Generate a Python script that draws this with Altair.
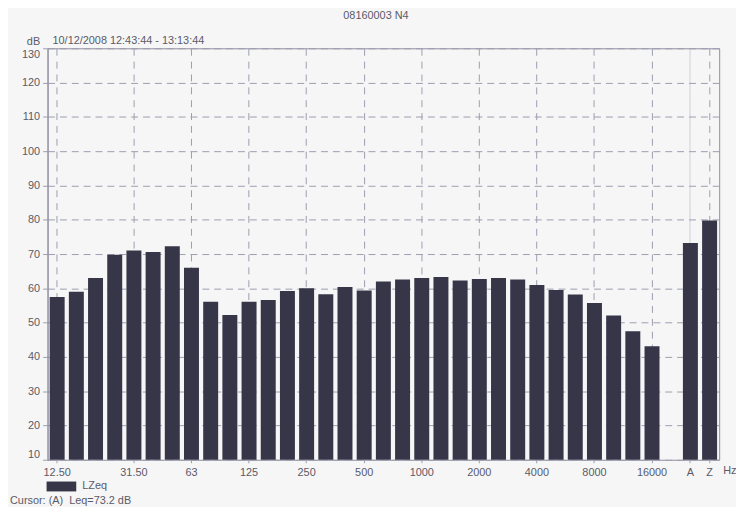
import altair as alt
import pandas as pd

bands = ["12.50", "16", "20", "25", "31.50", "40", "50", "63", "80", "100",
         "125", "160", "200", "250", "315", "400", "500", "630", "800", "1000",
         "1250", "1600", "2000", "2500", "3150", "4000", "5000", "6300", "8000",
         "10000", "12500", "16000", "20000", "A", "Z"]
levels = [57.5, 59.0, 63.0, 69.8, 71.0, 70.6, 72.3, 66.0, 56.1, 52.2,
          56.1, 56.6, 59.2, 60.0, 58.3, 60.4, 59.4, 62.0, 62.6, 63.0,
          63.3, 62.3, 62.7, 63.0, 62.6, 61.0, 59.5, 58.2, 55.7, 52.1,
          47.5, 43.1, None, 73.2, 79.8]
shown_labels = ["12.50", "31.50", "63", "125", "250", "500", "1000", "2000",
                "4000", "8000", "16000", "A", "Z"]
y_ticks = [10, 20, 30, 40, 50, 60, 70, 80, 90, 100, 110, 120, 130]
y_floor = 10

title_text = "08160003 N4"
period_text = "10/12/2008 12:43:44 - 13:13:44"
cursor_text = "Cursor: (A)\u00a0\u00a0Leq=73.2 dB"
series_name = "LZeq"

rows = [{"band": b, "level": v, "series": series_name}
        for b, v in zip(bands, levels) if v is not None]
df = pd.DataFrame(rows)

W, H = 679, 416
FONT = "Liberation Sans"
FS = 11
TXT = "#5a5a68"
GRID = "#9d9db0"
BAR = "#373648"

bars = alt.Chart(df).mark_bar(color=BAR).encode(
    x=alt.X("band:N", sort=bands,
            scale=alt.Scale(domain=bands, paddingInner=0.22, paddingOuter=0.11),
            axis=alt.Axis(
                title=None, values=shown_labels, labelAngle=0,
                labelFont=FONT, labelFontSize=FS, labelColor=TXT,
                labelPadding=4, tickSize=3, tickColor=GRID, domain=False,
                grid=True,
                gridColor={"condition": {"test": "datum.value === 'A'", "value": "#cdcdd8"}, "value": GRID},
                gridDash={"condition": {"test": "datum.value === 'A'", "value": [1, 0]}, "value": [7, 6]},
                gridWidth=1)),
    y=alt.Y("level:Q",
            scale=alt.Scale(domain=[10, 130], nice=False, zero=False),
            axis=alt.Axis(
                title="dB", titleAngle=0, titleAlign="right", titleBaseline="bottom",
                titleX=-8, titleY=-2, titleFont=FONT, titleFontSize=FS,
                titleFontWeight="normal", titleColor=TXT,
                values=y_ticks, labelFont=FONT, labelFontSize=FS, labelColor=TXT,
                labelPadding=3, labelFlush=True, tickSize=5, tickColor=GRID,
                domainColor="#8e8ea0",
                grid=True, gridColor=GRID, gridDash=[7, 5], gridWidth=1)),
    y2=alt.datum(y_floor),
    color=alt.Color("series:N",
                    scale=alt.Scale(domain=[series_name], range=[BAR]),
                    legend=alt.Legend(
                        title=None, orient="none", legendX=-1, legendY=428,
                        symbolType="M-1,-0.333H1V0.333H-1Z", symbolSize=900,
                        symbolStrokeWidth=0, labelFont=FONT, labelFontSize=FS,
                        labelColor=TXT, labelOffset=6, padding=0)),
)

title_layer = alt.Chart(pd.DataFrame({"t": [title_text]})).mark_text(
    font=FONT, fontSize=FS, color=TXT, align="center", baseline="middle"
).encode(text="t:N", x=alt.value(332), y=alt.value(-33))

period_layer = alt.Chart(pd.DataFrame({"t": [period_text]})).mark_text(
    font=FONT, fontSize=FS, color=TXT, align="left", baseline="bottom"
).encode(text="t:N", x=alt.value(5), y=alt.value(-2))

cursor_layer = alt.Chart(pd.DataFrame({"t": [cursor_text]})).mark_text(
    font=FONT, fontSize=FS, color=TXT, align="left", baseline="middle"
).encode(text="t:N", x=alt.value(-38), y=alt.value(458))

hz_layer = alt.Chart(pd.DataFrame({"t": ["Hz"]})).mark_text(
    font=FONT, fontSize=FS, color=TXT, align="left", baseline="middle"
).encode(text="t:N", x=alt.value(W + 4), y=alt.value(H + 11))

chart = alt.layer(bars, title_layer, period_layer, cursor_layer, hz_layer).properties(
    width=W, height=H,
    autosize=alt.AutoSizeParams(type="none"),
    padding={"left": 40, "top": 38, "right": 17, "bottom": 45},
    background="#f6f6f6",
).configure_view(stroke="#8e8ea0", strokeWidth=1)

chart.save("out.html", embed_options={"renderer": "svg", "actions": False})
